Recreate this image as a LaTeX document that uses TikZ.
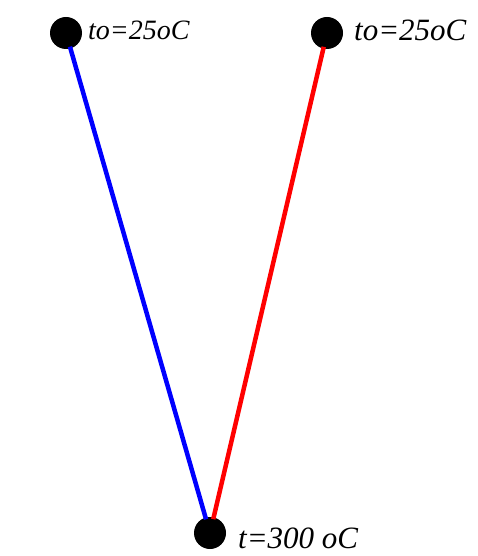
\documentclass[tikz,border=0pt]{standalone}
\usepackage{fontspec}
\setmainfont{Liberation Serif}
\begin{document}
\begin{tikzpicture}[x=1pt,y=-1pt,
  dot/.style={circle,fill=black,minimum size=32pt,inner sep=0pt},
  lbl/.style={anchor=west,inner sep=0pt,font=\itshape},
  wire/.style={line width=4.5pt}]
\useasboundingbox (0,0) rectangle (478,556);
\node[dot] (a) at (66,33) {};
\node[dot] (b) at (327,33) {};
\node[dot] (c) at (210,533) {};
\node[lbl,font=\fontsize{28}{30}\selectfont\itshape] (la) at (88,30) {to=25oC};
\node[lbl,font=\fontsize{31}{33}\selectfont\itshape] (lb) at (354,30) {to=25oC};
\node[lbl,font=\fontsize{31}{33}\selectfont\itshape] (lc) at (238,538) {t=300 oC};
\draw[wire,blue,shorten <=-2pt,shorten >=-2pt] (a) -- (c);
\draw[wire,red,shorten <=-2pt,shorten >=-2pt] (b) -- (c);
\end{tikzpicture}
\end{document}
